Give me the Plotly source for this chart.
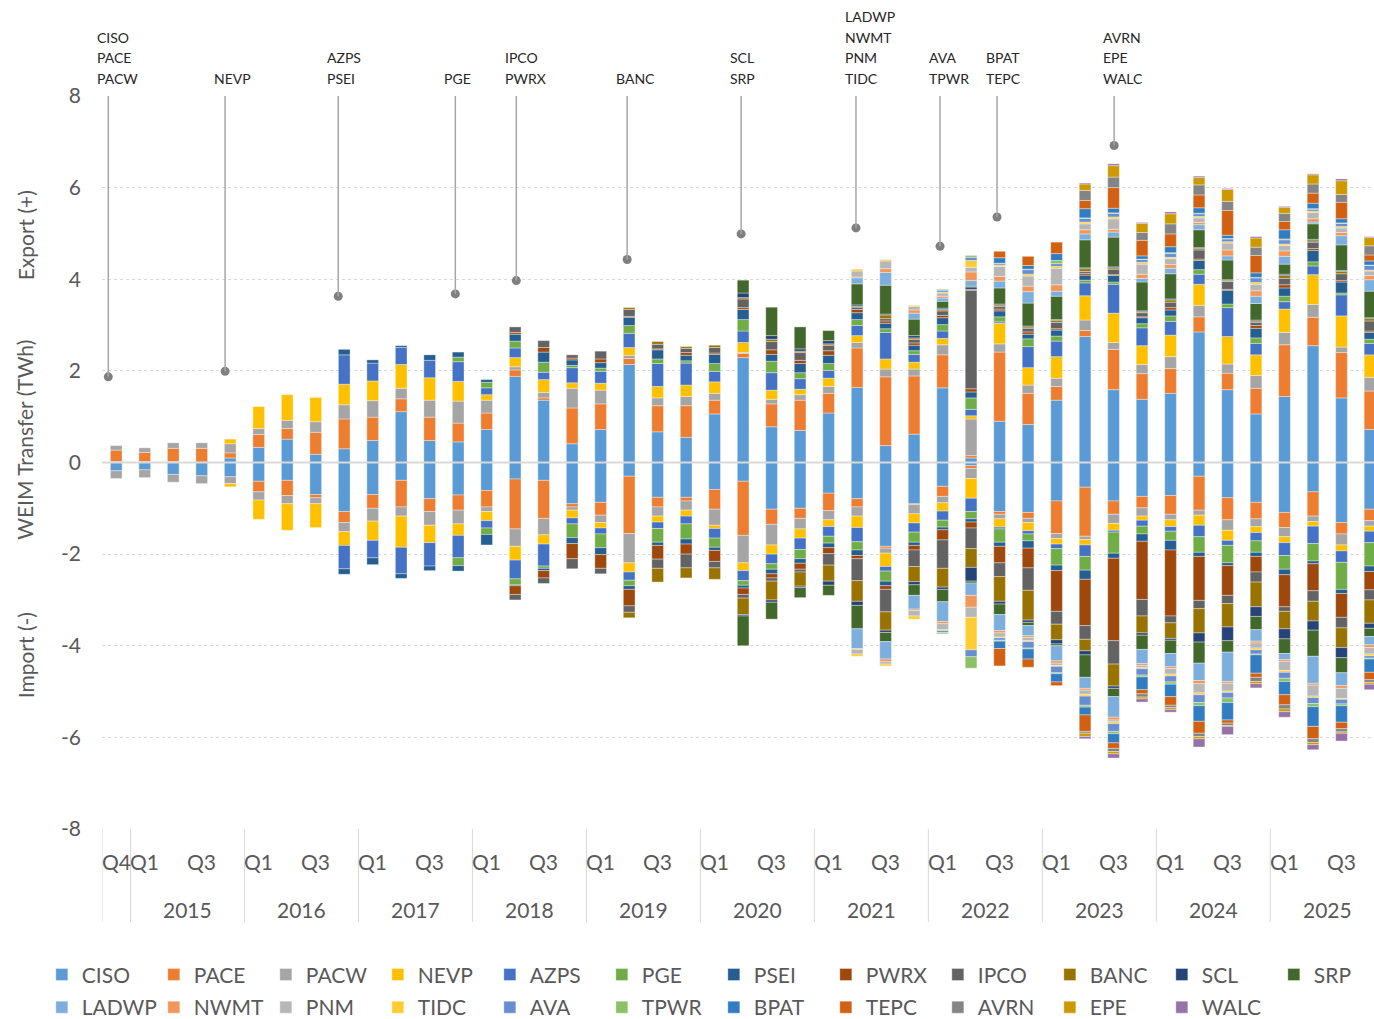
import plotly.graph_objects as go

# ---------------- categories ----------------
QUARTERS = ["2014 Q4",
            "2015 Q1", "2015 Q2", "2015 Q3", "2015 Q4",
            "2016 Q1", "2016 Q2", "2016 Q3", "2016 Q4",
            "2017 Q1", "2017 Q2", "2017 Q3", "2017 Q4",
            "2018 Q1", "2018 Q2", "2018 Q3", "2018 Q4",
            "2019 Q1", "2019 Q2", "2019 Q3", "2019 Q4",
            "2020 Q1", "2020 Q2", "2020 Q3", "2020 Q4",
            "2021 Q1", "2021 Q2", "2021 Q3", "2021 Q4",
            "2022 Q1", "2022 Q2", "2022 Q3", "2022 Q4",
            "2023 Q1", "2023 Q2", "2023 Q3", "2023 Q4",
            "2024 Q1", "2024 Q2", "2024 Q3", "2024 Q4",
            "2025 Q1", "2025 Q2", "2025 Q3", "2025 Q4"]
SHOWN_QTR_LABELS = ["Q4", "Q1", "Q3"]
SHOWN_YEARS = ["2015", "2016", "2017", "2018", "2019", "2020",
               "2021", "2022", "2023", "2024", "2025"]
Y_TICKS = [-8, -6, -4, -2, 0, 2, 4, 6, 8]
Y_TICK_TEXT = ["-8", "-6", "-4", "-2", "0", "2", "4", "6", "8"]

BAAS = ["CISO", "PACE", "PACW", "NEVP", "AZPS", "PGE", "PSEI", "PWRX", "IPCO", "BANC", "SCL", "SRP",
        "LADWP", "NWMT", "PNM", "TIDC", "AVA", "TPWR", "BPAT", "TEPC", "AVRN", "EPE", "WALC"]
COLORS = ["#5B9BD5", "#ED7D31", "#A5A5A5", "#FFC000", "#4472C4", "#70AD47", "#255E91", "#9E480E",
          "#636363", "#997300", "#264478", "#43682B", "#7CAFDD", "#F1975A", "#B7B7B7", "#FFCD33",
          "#698ED0", "#8CC168", "#327DC2", "#D26012", "#848484", "#CC9A00", "#9673A6"]

# ---------------- exports (TWh, +) ----------------
CISO_exp = [0.02, 0.02, 0.02, 0.01, 0.10, 0.33, 0.51, 0.18, 0.30, 0.48, 1.11, 0.48, 0.45, 0.72, 1.88,
            1.36, 0.41, 0.72, 2.14, 0.67, 0.55, 1.06, 2.29, 0.78, 0.70, 1.08, 1.64, 0.37, 0.62, 1.63,
            0.10, 0.90, 0.83, 1.36, 2.75, 1.59, 1.38, 1.51, 2.85, 1.59, 1.06, 1.44, 2.55, 1.41, 0.72]
PACE_exp = [0.25, 0.20, 0.29, 0.30, 0.11, 0.28, 0.23, 0.48, 0.65, 0.51, 0.28, 0.51, 0.41, 0.36, 0.14,
            0.05, 0.78, 0.56, 0.13, 0.57, 0.69, 0.30, 0.09, 0.50, 0.66, 0.43, 0.86, 1.50, 1.27, 0.72,
            0.05, 1.51, 0.68, 0.30, 0.13, 0.88, 0.56, 0.54, 0.33, 0.36, 0.56, 1.13, 0.62, 0.99, 0.84]
PACW_exp = [0.10, 0.10, 0.12, 0.12, 0.20, 0.13, 0.18, 0.23, 0.31, 0.36, 0.23, 0.37, 0.48, 0.28, 0.07,
            0.12, 0.43, 0.30, 0.07, 0.17, 0.20, 0.15, 0.02, 0.10, 0.12, 0.15, 0.12, 0.17, 0.15, 0.22,
            0.80, 0.18, 0.18, 0.18, 0.23, 0.15, 0.20, 0.26, 0.25, 0.20, 0.28, 0.27, 0.28, 0.12, 0.30]
NEVP_exp = [0, 0, 0, 0, 0.10, 0.48, 0.56, 0.53, 0.45, 0.43, 0.52, 0.49, 0.43, 0.12, 0.20,
            0.28, 0.12, 0.15, 0.17, 0.25, 0.25, 0.25, 0.22, 0.20, 0.12, 0.18, 0.15, 0.22, 0.15, 0.14,
            0.07, 0.45, 0.38, 0.47, 0.53, 0.64, 0.41, 0.47, 0.46, 0.60, 0.45, 0.51, 0.65, 0.68, 0.49]
AZPS_exp = [0, 0, 0, 0, 0, 0, 0, 0, 0.64, 0.39, 0.37, 0.38, 0.43, 0.15, 0.21,
            0.16, 0.33, 0.26, 0.31, 0.50, 0.48, 0.23, 0.25, 0.38, 0.23, 0.17, 0.22, 0.58, 0.17, 0.16,
            0.14, 0.03, 0.46, 0.34, 0.28, 0.63, 0.39, 0.30, 0.22, 0.63, 0.25, 0.16, 0.19, 0.46, 0.25]
PGE_exp = [0, 0, 0, 0, 0, 0, 0, 0, 0, 0, 0, 0, 0.10, 0.12, 0.15,
           0.22, 0.05, 0.07, 0.17, 0.10, 0.05, 0.17, 0.25, 0.25, 0.13, 0.15, 0.13, 0.08, 0.08, 0.14,
           0.25, 0.11, 0.17, 0.11, 0.06, 0.05, 0.09, 0.12, 0.10, 0.08, 0.12, 0.12, 0.09, 0.04, 0.09]
PSEI_exp = [0, 0, 0, 0, 0, 0, 0, 0, 0.12, 0.07, 0.04, 0.12, 0.11, 0.06, 0.15,
            0.22, 0.12, 0.12, 0.18, 0.20, 0.12, 0.20, 0.22, 0.15, 0.20, 0.18, 0.15, 0.12, 0.12, 0.15,
            0.13, 0.13, 0.10, 0.13, 0.11, 0.14, 0.13, 0.13, 0.20, 0.30, 0.21, 0.18, 0.25, 0.24, 0.15]
PWRX_exp = [0, 0, 0, 0, 0, 0, 0, 0, 0, 0, 0, 0, 0, 0, 0.04,
            0.10, 0.04, 0.08, 0.02, 0.02, 0.06, 0.03, 0.04, 0.10, 0.07, 0.10, 0.07, 0.05, 0.05, 0.05,
            0.07, 0.04, 0.05, 0.03, 0.04, 0.02, 0.02, 0.05, 0.03, 0.02, 0.06, 0.07, 0.04, 0.03, 0.03]
IPCO_exp = [0, 0, 0, 0, 0, 0, 0, 0, 0, 0, 0, 0, 0, 0, 0.12,
            0.15, 0.07, 0.17, 0.15, 0.10, 0.09, 0.12, 0.19, 0.18, 0.17, 0.12, 0.05, 0.05, 0.08, 0.10,
            2.15, 0.06, 0.08, 0.14, 0.04, 0.12, 0.09, 0.12, 0.20, 0.17, 0.07, 0.14, 0.14, 0.15, 0.22]
BANC_exp = [0, 0, 0, 0, 0, 0, 0, 0, 0, 0, 0, 0, 0, 0, 0,
            0, 0, 0, 0.04, 0.06, 0.04, 0.05, 0.03, 0.05, 0.03, 0.03, 0.02, 0.08, 0.03, 0.03,
            0.02, 0.03, 0.03, 0.04, 0.06, 0.03, 0.02, 0.05, 0.03, 0.02, 0.03, 0.06, 0.03, 0.05, 0.05]
SCL_exp = [0, 0, 0, 0, 0, 0, 0, 0, 0, 0, 0, 0, 0, 0, 0,
           0, 0, 0, 0, 0, 0, 0, 0.10, 0.08, 0.05, 0.07, 0.03, 0.02, 0.05, 0.03,
           0.05, 0.02, 0.02, 0.02, 0.02, 0.02, 0.02, 0.02, 0.02, 0.02, 0.02, 0.03, 0.03, 0.02, 0.02]
SRP_exp = [0, 0, 0, 0, 0, 0, 0, 0, 0, 0, 0, 0, 0, 0, 0,
           0, 0, 0, 0, 0, 0, 0, 0.28, 0.62, 0.48, 0.22, 0.46, 0.63, 0.36, 0.15,
           0.02, 0.35, 0.50, 0.51, 0.61, 0.65, 0.63, 0.55, 0.39, 0.43, 0.36, 0.22, 0.34, 0.56, 0.58]
LADWP_exp = [0, 0, 0, 0, 0, 0, 0, 0, 0, 0, 0, 0, 0, 0, 0,
             0, 0, 0, 0, 0, 0, 0, 0, 0, 0, 0, 0.13, 0.28, 0.13, 0.07,
             0.12, 0.15, 0.25, 0.11, 0.13, 0.11, 0.08, 0.12, 0.11, 0.09, 0.16, 0.17, 0.04, 0.20, 0.25]
NWMT_exp = [0, 0, 0, 0, 0, 0, 0, 0, 0, 0, 0, 0, 0, 0, 0,
            0, 0, 0, 0, 0, 0, 0, 0, 0, 0, 0, 0.02, 0.08, 0.07, 0.04,
            0.19, 0.10, 0.12, 0.14, 0.09, 0.06, 0.09, 0.08, 0.05, 0.13, 0.12, 0.12, 0.07, 0.07, 0.09]
PNM_exp = [0, 0, 0, 0, 0, 0, 0, 0, 0, 0, 0, 0, 0, 0, 0,
           0, 0, 0, 0, 0, 0, 0, 0, 0, 0, 0, 0.13, 0.17, 0.08, 0.07,
           0.10, 0.22, 0.22, 0.36, 0.13, 0.23, 0.22, 0.13, 0.10, 0.15, 0.14, 0.12, 0.14, 0.10, 0.10]
TIDC_exp = [0, 0, 0, 0, 0, 0, 0, 0, 0, 0, 0, 0, 0, 0, 0,
            0, 0, 0, 0, 0, 0, 0, 0, 0, 0, 0, 0.04, 0.03, 0.02, 0.02,
            0.15, 0.03, 0.04, 0.04, 0.04, 0.04, 0.04, 0.03, 0.03, 0.03, 0.04, 0.03, 0.03, 0.03, 0.02]
AVA_exp = [0, 0, 0, 0, 0, 0, 0, 0, 0, 0, 0, 0, 0, 0, 0,
           0, 0, 0, 0, 0, 0, 0, 0, 0, 0, 0, 0, 0, 0, 0.04,
           0.07, 0.03, 0.10, 0.06, 0.08, 0.08, 0.06, 0.08, 0.06, 0.06, 0.10, 0.09, 0.04, 0.07, 0.10]
TPWR_exp = [0, 0, 0, 0, 0, 0, 0, 0, 0, 0, 0, 0, 0, 0, 0,
            0, 0, 0, 0, 0, 0, 0, 0, 0, 0, 0, 0, 0, 0, 0.02,
            0.04, 0.01, 0.01, 0.07, 0.01, 0.01, 0.01, 0.02, 0.01, 0.01, 0.01, 0.02, 0.01, 0.01, 0.01]
BPAT_exp = [0, 0, 0, 0, 0, 0, 0, 0, 0, 0, 0, 0, 0, 0, 0,
            0, 0, 0, 0, 0, 0, 0, 0, 0, 0, 0, 0, 0, 0, 0,
            0, 0.12, 0.08, 0.15, 0.20, 0.10, 0.07, 0.13, 0.12, 0.07, 0.10, 0.20, 0.12, 0.09, 0.09]
TEPC_exp = [0, 0, 0, 0, 0, 0, 0, 0, 0, 0, 0, 0, 0, 0, 0,
            0, 0, 0, 0, 0, 0, 0, 0, 0, 0, 0, 0, 0, 0, 0,
            0, 0.14, 0.20, 0.25, 0.18, 0.45, 0.34, 0.28, 0.28, 0.54, 0.38, 0.18, 0.22, 0.36, 0.13]
AVRN_exp = [0, 0, 0, 0, 0, 0, 0, 0, 0, 0, 0, 0, 0, 0, 0,
            0, 0, 0, 0, 0, 0, 0, 0, 0, 0, 0, 0, 0, 0, 0,
            0, 0, 0, 0, 0.22, 0.23, 0.17, 0.22, 0.22, 0.20, 0.18, 0.18, 0.20, 0.17, 0.20]
EPE_exp = [0, 0, 0, 0, 0, 0, 0, 0, 0, 0, 0, 0, 0, 0, 0,
           0, 0, 0, 0, 0, 0, 0, 0, 0, 0, 0, 0, 0, 0, 0,
           0, 0, 0, 0, 0.14, 0.25, 0.20, 0.22, 0.16, 0.26, 0.20, 0.13, 0.20, 0.30, 0.18]
WALC_exp = [0, 0, 0, 0, 0, 0, 0, 0, 0, 0, 0, 0, 0, 0, 0,
            0, 0, 0, 0, 0, 0, 0, 0, 0, 0, 0, 0, 0, 0, 0,
            0, 0, 0, 0, 0.02, 0.04, 0.02, 0.04, 0.03, 0.02, 0.03, 0.02, 0.02, 0.04, 0.02]

# ---------------- imports (TWh, -) ----------------
CISO_imp = [-0.18, -0.16, -0.26, -0.29, -0.31, -0.41, -0.39, -0.70, -1.07, -0.70, -0.39, -0.79, -0.71, -0.61, -0.36,
            -0.39, -0.90, -0.87, -0.30, -0.76, -0.76, -0.59, -0.41, -1.02, -1.00, -0.67, -0.79, -1.83, -0.90, -0.52,
            -0.07, -1.07, -1.09, -0.84, -0.54, -0.84, -0.74, -0.72, -0.30, -0.77, -0.87, -1.09, -0.64, -1.31, -1.02]
PACE_imp = [0, 0, 0, 0, 0, -0.23, -0.33, -0.07, -0.24, -0.30, -0.58, -0.28, -0.33, -0.36, -1.09,
            -0.83, -0.07, -0.28, -1.25, -0.21, -0.08, -0.43, -1.18, -0.33, -0.22, -0.38, -0.18, -0.04, -0.02, -0.22,
            -0.06, -0.06, -0.13, -0.71, -1.07, -0.29, -0.25, -0.41, -0.74, -0.48, -0.36, -0.33, -0.53, -0.25, -0.25]
PACW_imp = [-0.17, -0.17, -0.17, -0.17, -0.15, -0.18, -0.18, -0.13, -0.20, -0.28, -0.20, -0.30, -0.30, -0.10, -0.38,
            -0.36, -0.07, -0.16, -0.64, -0.20, -0.20, -0.35, -0.60, -0.45, -0.23, -0.20, -0.20, -0.11, -0.20, -0.14,
            -0.22, -0.10, -0.09, -0.11, -0.07, -0.20, -0.18, -0.12, -0.11, -0.23, -0.17, -0.20, -0.12, -0.24, -0.12]
NEVP_imp = [0, 0, 0, 0, -0.07, -0.42, -0.58, -0.52, -0.30, -0.42, -0.68, -0.38, -0.25, -0.20, -0.30,
            -0.20, -0.17, -0.12, -0.20, -0.13, -0.13, -0.07, -0.17, -0.20, -0.20, -0.15, -0.25, -0.29, -0.20, -0.18,
            -0.43, -0.18, -0.18, -0.12, -0.12, -0.15, -0.09, -0.15, -0.22, -0.22, -0.13, -0.13, -0.10, -0.13, -0.11]
AZPS_imp = [0, 0, 0, 0, 0, 0, 0, 0, -0.51, -0.38, -0.58, -0.51, -0.49, -0.16, -0.41,
            -0.48, -0.13, -0.13, -0.18, -0.14, -0.17, -0.21, -0.22, -0.21, -0.25, -0.21, -0.31, -0.10, -0.20, -0.20,
            -0.29, -0.04, -0.07, -0.10, -0.25, -0.04, -0.13, -0.10, -0.25, -0.11, -0.18, -0.28, -0.38, -0.25, -0.25]
PGE_imp = [0, 0, 0, 0, 0, 0, 0, 0, 0, 0, 0, 0, -0.17, -0.14, -0.13,
           -0.05, -0.30, -0.30, -0.12, -0.30, -0.33, -0.20, -0.10, -0.12, -0.20, -0.15, -0.18, -0.22, -0.22, -0.15,
           -0.16, -0.29, -0.15, -0.36, -0.30, -0.46, -0.17, -0.20, -0.34, -0.38, -0.25, -0.30, -0.38, -0.59, -0.51]
PSEI_imp = [0, 0, 0, 0, 0, 0, 0, 0, -0.12, -0.15, -0.10, -0.10, -0.12, -0.23, -0.02,
            -0.05, -0.13, -0.15, -0.08, -0.07, -0.11, -0.07, -0.06, -0.10, -0.10, -0.10, -0.12, -0.10, -0.07, -0.06,
            -0.07, -0.09, -0.16, -0.12, -0.20, -0.11, -0.16, -0.21, -0.09, -0.06, -0.09, -0.12, -0.06, -0.09, -0.12]
PWRX_imp = [0, 0, 0, 0, 0, 0, 0, 0, 0, 0, 0, 0, 0, 0, -0.19,
            -0.16, -0.33, -0.30, -0.36, -0.30, -0.22, -0.24, -0.14, -0.09, -0.13, -0.13, -0.07, -0.08, -0.10, -0.22,
            -0.13, -0.36, -0.43, -0.89, -1.01, -1.80, -1.27, -1.44, -0.96, -0.65, -0.34, -0.70, -0.59, -0.52, -0.40]
IPCO_imp = [0, 0, 0, 0, 0, 0, 0, 0, 0, 0, 0, 0, 0, 0, -0.12,
            -0.12, -0.22, -0.12, -0.14, -0.20, -0.30, -0.14, -0.08, -0.07, -0.06, -0.25, -0.48, -0.49, -0.36, -0.62,
            -0.45, -0.30, -0.49, -0.28, -0.30, -0.51, -0.36, -0.15, -0.18, -0.18, -0.22, -0.10, -0.23, -0.23, -0.22]
BANC_imp = [0, 0, 0, 0, 0, 0, 0, 0, 0, 0, 0, 0, 0, 0, 0,
            0, 0, 0, -0.12, -0.30, -0.22, -0.25, -0.36, -0.41, -0.31, -0.35, -0.45, -0.40, -0.33, -0.41,
            -0.41, -0.54, -0.65, -0.34, -0.25, -0.48, -0.37, -0.34, -0.53, -0.51, -0.54, -0.38, -0.43, -0.43, -0.51]
SCL_imp = [0, 0, 0, 0, 0, 0, 0, 0, 0, 0, 0, 0, 0, 0, 0,
           0, 0, 0, 0, 0, 0, 0, -0.03, -0.05, -0.03, -0.09, -0.09, -0.05, -0.07, -0.05,
           -0.30, -0.06, -0.05, -0.09, -0.09, -0.05, -0.05, -0.04, -0.20, -0.30, -0.21, -0.22, -0.20, -0.22, -0.11]
SRP_imp = [0, 0, 0, 0, 0, 0, 0, 0, 0, 0, 0, 0, 0, 0, 0,
           0, 0, 0, 0, 0, 0, 0, -0.65, -0.37, -0.22, -0.22, -0.51, -0.20, -0.23, -0.27,
           -0.04, -0.23, -0.07, -0.04, -0.49, -0.18, -0.31, -0.29, -0.46, -0.25, -0.29, -0.32, -0.57, -0.33, -0.18]
LADWP_imp = [0, 0, 0, 0, 0, 0, 0, 0, 0, 0, 0, 0, 0, 0, 0,
             0, 0, 0, 0, 0, 0, 0, 0, 0, 0, 0, -0.43, -0.38, -0.30, -0.43,
             -0.27, -0.35, -0.22, -0.33, -0.24, -0.45, -0.31, -0.29, -0.38, -0.64, -0.25, -0.13, -0.59, -0.28, -0.18]
NWMT_imp = [0, 0, 0, 0, 0, 0, 0, 0, 0, 0, 0, 0, 0, 0, 0,
            0, 0, 0, 0, 0, 0, 0, 0, 0, 0, 0, -0.02, -0.06, -0.03, -0.05,
            -0.26, -0.05, -0.04, -0.05, -0.04, -0.06, -0.04, -0.04, -0.07, -0.04, -0.04, -0.04, -0.04, -0.06, -0.06]
PNM_imp = [0, 0, 0, 0, 0, 0, 0, 0, 0, 0, 0, 0, 0, 0, 0,
           0, 0, 0, 0, 0, 0, 0, 0, 0, 0, 0, -0.10, -0.05, -0.12, -0.13,
           -0.22, -0.09, -0.07, -0.05, -0.09, -0.04, -0.05, -0.12, -0.20, -0.17, -0.11, -0.20, -0.24, -0.22, -0.14]
TIDC_imp = [0, 0, 0, 0, 0, 0, 0, 0, 0, 0, 0, 0, 0, 0, 0,
            0, 0, 0, 0, 0, 0, 0, 0, 0, 0, 0, -0.05, -0.04, -0.07, -0.02,
            -0.71, -0.02, -0.02, -0.02, -0.04, -0.04, -0.02, -0.04, -0.04, -0.03, -0.04, -0.04, -0.03, -0.02, -0.04]
AVA_imp = [0, 0, 0, 0, 0, 0, 0, 0, 0, 0, 0, 0, 0, 0, 0,
           0, 0, 0, 0, 0, 0, 0, 0, 0, 0, 0, 0, 0, 0, -0.04,
           -0.15, -0.05, -0.14, -0.14, -0.20, -0.17, -0.14, -0.13, -0.17, -0.12, -0.09, -0.13, -0.13, -0.10, -0.05]
TPWR_imp = [0, 0, 0, 0, 0, 0, 0, 0, 0, 0, 0, 0, 0, 0, 0,
            0, 0, 0, 0, 0, 0, 0, 0, 0, 0, 0, 0, 0, 0, -0.03,
            -0.25, -0.02, -0.02, -0.02, -0.04, -0.05, -0.04, -0.05, -0.07, -0.10, -0.02, -0.07, -0.07, -0.04, -0.02]
BPAT_imp = [0, 0, 0, 0, 0, 0, 0, 0, 0, 0, 0, 0, 0, 0, 0,
            0, 0, 0, 0, 0, 0, 0, 0, 0, 0, 0, 0, 0, 0, 0,
            0, -0.16, -0.22, -0.18, -0.17, -0.20, -0.28, -0.27, -0.34, -0.38, -0.40, -0.29, -0.43, -0.36, -0.29]
TEPC_imp = [0, 0, 0, 0, 0, 0, 0, 0, 0, 0, 0, 0, 0, 0, 0,
            0, 0, 0, 0, 0, 0, 0, 0, 0, 0, 0, 0, 0, 0, 0,
            0, -0.38, -0.18, -0.08, -0.36, -0.12, -0.09, -0.19, -0.26, -0.07, -0.09, -0.22, -0.27, -0.14, -0.16]
AVRN_imp = [0, 0, 0, 0, 0, 0, 0, 0, 0, 0, 0, 0, 0, 0, 0,
            0, 0, 0, 0, 0, 0, 0, 0, 0, 0, 0, 0, 0, 0, 0,
            0, 0, 0, 0, -0.04, -0.07, -0.07, -0.05, -0.07, -0.05, -0.09, -0.09, -0.08, -0.07, -0.06]
EPE_imp = [0, 0, 0, 0, 0, 0, 0, 0, 0, 0, 0, 0, 0, 0, 0,
           0, 0, 0, 0, 0, 0, 0, 0, 0, 0, 0, 0, 0, 0, 0,
           0, 0, 0, 0, -0.07, -0.05, -0.04, -0.04, -0.05, -0.02, -0.05, -0.06, -0.05, -0.03, -0.04]
WALC_imp = [0, 0, 0, 0, 0, 0, 0, 0, 0, 0, 0, 0, 0, 0, 0,
            0, 0, 0, 0, 0, 0, 0, 0, 0, 0, 0, 0, 0, 0, 0,
            0, 0, 0, 0, -0.05, -0.09, -0.07, -0.06, -0.18, -0.18, -0.09, -0.12, -0.11, -0.17, -0.12]

# ---------------- EIM entry markers ----------------
ENTRY_GROUPS = [["CISO", "PACE", "PACW"], ["NEVP"], ["AZPS", "PSEI"], ["PGE"], ["IPCO", "PWRX"], ["BANC"],
                ["SCL", "SRP"], ["LADWP", "NWMT", "PNM", "TIDC"], ["AVA", "TPWR"], ["BPAT", "TEPC"],
                ["AVRN", "EPE", "WALC"]]
ENTRY_POS = [-0.28, 3.82, 7.79, 11.9, 14.04, 17.93, 21.93, 25.96, 28.91, 30.91, 35.02]
ENTRY_DOT = [1.87, 1.99, 3.63, 3.68, 3.97, 4.43, 4.99, 5.12, 4.72, 5.36, 6.92]

EXPORTS = {b: globals()[b + "_exp"] for b in BAAS}
IMPORTS = {b: globals()[b + "_imp"] for b in BAAS}

FONT = "Lato, 'Open Sans', sans-serif"
GREY = "#595959"

xs = list(range(len(QUARTERS)))
years = [q.split()[0] for q in QUARTERS]
qtrs = [q.split()[1] for q in QUARTERS]


def clean(v):
    return [None if x == 0 else x for x in v]


fig = go.Figure()
for i, (b, c) in enumerate(zip(BAAS, COLORS)):
    lg = "legend" if i < 12 else "legend2"
    common = dict(x=xs, marker=dict(color=c, line=dict(color="rgba(255,255,255,0.7)", width=0.5)),
                  width=0.41, legendgroup=b, legend=lg, name=b)
    fig.add_trace(go.Bar(y=clean(EXPORTS[b]), showlegend=True, **common))
    fig.add_trace(go.Bar(y=clean(IMPORTS[b]), showlegend=False, **common))

# entry lines + dots
shapes = []
for xp, yd in zip(ENTRY_POS, ENTRY_DOT):
    shapes.append(dict(type="line", xref="x", yref="y", x0=xp, x1=xp, y0=8, y1=yd,
                       line=dict(color="#A6A6A6", width=1.5), layer="above"))
fig.add_trace(go.Scatter(x=ENTRY_POS, y=ENTRY_DOT, mode="markers",
                         marker=dict(color="#7F7F7F", size=9), showlegend=False, hoverinfo="skip"))

# zero line
shapes.append(dict(type="line", xref="paper", yref="y", x0=0, x1=1, y0=0, y1=0,
                   line=dict(color="#D9D9D9", width=2), layer="above"))

# category dividers
bounds = [-0.5] + [i - 0.5 for i in range(1, len(QUARTERS)) if years[i] != years[i - 1]]
for bx in bounds:
    shapes.append(dict(type="line", xref="x", yref="paper", x0=bx, x1=bx, y0=0, y1=-0.127,
                       line=dict(color="#D9D9D9", width=1)))

annotations = []
for grp, xp in zip(ENTRY_GROUPS, ENTRY_POS):
    n = len(grp)
    for k, name in enumerate(grp):
        annotations.append(dict(x=xp, xref="x", y=1, yref="paper", yanchor="middle", xanchor="left",
                                xshift=-13, yshift=18 + 20.5 * (n - 1 - k), text=name, showarrow=False,
                                align="left", font=dict(family=FONT, size=14, color="#262626")))

# quarter labels
for i, q in enumerate(qtrs):
    if (i == 0 and q in SHOWN_QTR_LABELS) or (i > 0 and q in SHOWN_QTR_LABELS[1:]):
        annotations.append(dict(x=i, xref="x", y=0, yref="paper", yanchor="middle", yshift=-32,
                                text=q, showarrow=False, font=dict(family=FONT, size=21, color=GREY)))
# year labels
for yr in SHOWN_YEARS:
    idx = [i for i, y in enumerate(years) if y == yr]
    annotations.append(dict(x=sum(idx) / len(idx), xref="x", y=0, yref="paper", yanchor="middle",
                            yshift=-80, text=yr, showarrow=False,
                            font=dict(family=FONT, size=21, color=GREY)))

# y-axis titles
for txt, yp in [("Export (+)", 0.81), ("WEIM Transfer (TWh)", 0.531), ("Import (-)", 0.237)]:
    annotations.append(dict(x=-0.0605, xref="paper", y=yp, yref="paper", text=txt, textangle=-90,
                            showarrow=False, xanchor="center", yanchor="middle",
                            font=dict(family=FONT, size=21, color=GREY)))

legend_common = dict(orientation="h", xanchor="left", yanchor="middle", entrywidth=67,
                     entrywidthmode="pixels", bgcolor="rgba(0,0,0,0)", traceorder="normal",
                     font=dict(family=FONT, size=21, color=GREY), x=-0.0473)

fig.update_layout(
    width=1374, height=1019,
    margin=dict(l=102, r=0, t=96, b=190, autoexpand=False),
    paper_bgcolor="white", plot_bgcolor="white",
    barmode="relative",
    shapes=shapes, annotations=annotations,
    legend=dict(y=-0.199, **legend_common),
    legend2=dict(y=-0.2435, **legend_common),
    xaxis=dict(range=[-0.5, 44.14], showticklabels=False, showgrid=False, zeroline=False,
               showline=False, ticks=""),
    yaxis=dict(range=[-8, 8], tickvals=Y_TICKS, ticktext=Y_TICK_TEXT, showgrid=True,
               gridcolor="#D9D9D9", griddash="dot", gridwidth=1, zeroline=False, showline=False,
               ticks="", ticklabelstandoff=20, tickfont=dict(family=FONT, size=21, color=GREY)),
    showlegend=True,
)

fig.write_html("out.html", config={"displayModeBar": False},
               post_script="document.body.style.margin='0';document.body.style.overflow='hidden';")
